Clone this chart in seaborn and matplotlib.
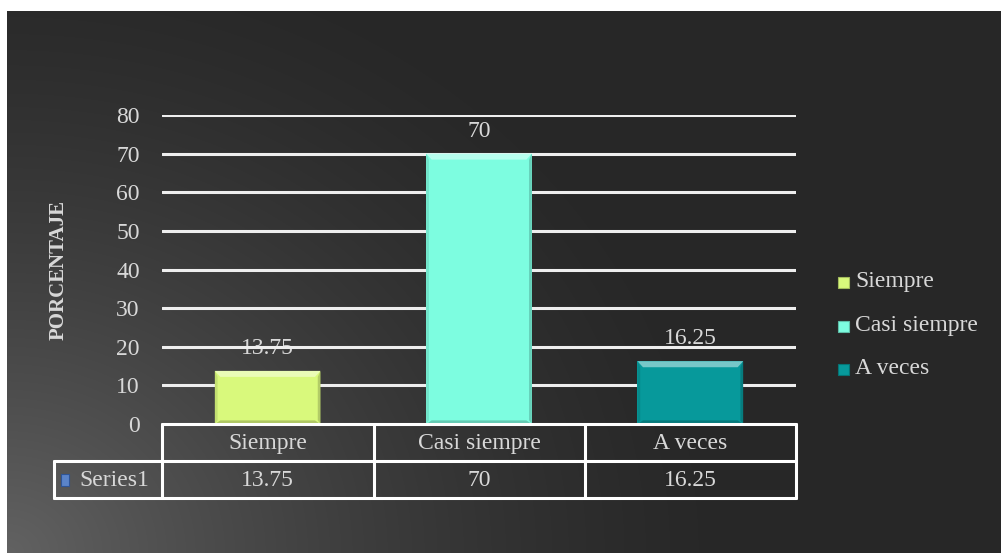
import numpy as np
import pandas as pd
import matplotlib
matplotlib.use("Agg")
import matplotlib.pyplot as plt
import seaborn as sns
from matplotlib.patches import Polygon, Rectangle
from matplotlib.lines import Line2D

categories = ["Siempre", "Casi siempre", "A veces"]
values = [13.75, 70, 16.25]
value_labels = ["13.75", "70", "16.25"]
series_name = "Series1"
y_label = "PORCENTAJE"
y_ticks = [0, 10, 20, 30, 40, 50, 60, 70, 80]
colors = ["#d9f97c", "#7dfde0", "#07999b"]

sns.set_theme(style="white")
plt.rcParams["font.family"] = ["Liberation Serif", "DejaVu Serif"]
TXT = "#d8d8d8"
FS = 17

W, H = 1001, 553
fig = plt.figure(figsize=(W / 100, H / 100), dpi=100)
fig.patch.set_facecolor("white")

# dark radial-gradient backdrop, brighter toward the lower-left corner
bg = fig.add_axes([7 / W, 0, (W - 7) / W, (H - 11) / H])
gw, gh = 994, 542
yy, xx = np.mgrid[0:gh, 0:gw]
r = np.hypot(xx, (gh - yy) * 1.15)
t = np.clip(1 - r / 740, 0, 1) ** 1.5
lum = (0x27 + (0x62 - 0x27) * t) / 255
img = np.dstack([lum, lum, lum])
bg.imshow(img, aspect="auto", extent=[0, 1, 0, 1], origin="upper")
bg.set_axis_off()

# plot area
L, R, B, T = 162, 796, 424, 115
ax = fig.add_axes([L / W, (H - B) / H, (R - L) / W, (B - T) / H])
ax.patch.set_alpha(0)

df = pd.DataFrame({"cat": categories, "val": values})
sns.barplot(data=df, x="cat", y="val", hue="cat", palette=colors,
            order=categories, hue_order=categories, width=0.5, saturation=1,
            dodge=False, legend=False, ax=ax, zorder=3, linewidth=0)

ax.set_ylim(0, 80)
ax.set_xlim(-0.5, 2.5)
ax.set_yticks(y_ticks)
ax.set_yticklabels([str(v) for v in y_ticks], color=TXT, fontsize=FS)
ax.tick_params(axis="y", length=0, pad=16)
ax.set_xticks([])
ax.set_xlabel("")
ax.set_ylabel(y_label, color=TXT, fontsize=15, fontweight="bold", labelpad=34)
for s in ax.spines.values():
    s.set_visible(False)
for v in y_ticks[1:]:
    ax.axhline(v, color="#eeeeee", lw=2.2, zorder=2)

# bevel shading on each bar
def shade(c, f):
    c = np.array(matplotlib.colors.to_rgb(c))
    return tuple(np.clip(c * f if f < 1 else c + (1 - c) * (f - 1), 0, 1))

bx = 0.026
by = 80 * 6 / (B - T)
for i, (v, c) in enumerate(zip(values, colors)):
    x0, x1 = i - 0.25, i + 0.25
    top = Polygon([(x0, v), (x1, v), (x1 - bx, v - by), (x0 + bx, v - by)],
                  closed=True, fc=shade(c, 1.45), ec="none", zorder=4)
    bot = Polygon([(x0, 0), (x1, 0), (x1 - bx, by * 0.6), (x0 + bx, by * 0.6)],
                  closed=True, fc=shade(c, 0.8), ec="none", zorder=4)
    lft = Polygon([(x0, 0), (x0, v), (x0 + bx * 0.5, v - by), (x0 + bx * 0.5, by * 0.6)],
                  closed=True, fc=shade(c, 0.9), ec="none", zorder=4)
    rgt = Polygon([(x1, 0), (x1, v), (x1 - bx * 0.5, v - by), (x1 - bx * 0.5, by * 0.6)],
                  closed=True, fc=shade(c, 0.82), ec="none", zorder=4)
    for p in (top, bot, lft, rgt):
        ax.add_patch(p)
    ax.text(i, v + 80 * 12 / (B - T), value_labels[i], ha="center", va="bottom",
            color=TXT, fontsize=FS, zorder=1)

# data table under the axis, drawn in pixel-based figure coordinates
def fx(px):
    return px / W

def fy(py):
    return (H - py) / H

row1, row2, row3 = 424, 461, 498
cols = [162, 373.5, 585, 796]
lw = 2.2
lc = "white"
fig.add_artist(Line2D([fx(162), fx(796)], [fy(row1), fy(row1)], color=lc, lw=lw))
fig.add_artist(Line2D([fx(54), fx(796)], [fy(row2), fy(row2)], color=lc, lw=lw))
fig.add_artist(Line2D([fx(54), fx(796)], [fy(row3), fy(row3)], color=lc, lw=lw))
for cx in cols:
    fig.add_artist(Line2D([fx(cx), fx(cx)], [fy(row1), fy(row3)], color=lc, lw=lw))
fig.add_artist(Line2D([fx(54), fx(54)], [fy(row2), fy(row3)], color=lc, lw=lw))

for i, cat in enumerate(categories):
    cx = (cols[i] + cols[i + 1]) / 2
    fig.text(fx(cx), fy((row1 + row2) / 2 + 1), cat, ha="center", va="center",
             color=TXT, fontsize=FS)
    fig.text(fx(cx), fy((row2 + row3) / 2 + 1), value_labels[i], ha="center",
             va="center", color=TXT, fontsize=FS)

fig.add_artist(Rectangle((fx(61), fy(486)), 8 / W, 12 / H, transform=fig.transFigure,
                         fc="#5b84c9", ec="#2f5597", lw=0.8))
fig.text(fx(79), fy((row2 + row3) / 2 + 1), series_name, ha="left", va="center",
         color=TXT, fontsize=FS)

# legend
leg_y = [282, 326, 369]
for c, cat, ly in zip(colors, categories, leg_y):
    fig.add_artist(Rectangle((fx(838), fy(ly + 6)), 11 / W, 11 / H,
                             transform=fig.transFigure, fc=c, ec=shade(c, 0.75), lw=0.8))
    fig.text(fx(855), fy(ly), cat, ha="left", va="center", color=TXT, fontsize=FS)

fig.savefig("out.png", dpi=100, facecolor=fig.get_facecolor())
